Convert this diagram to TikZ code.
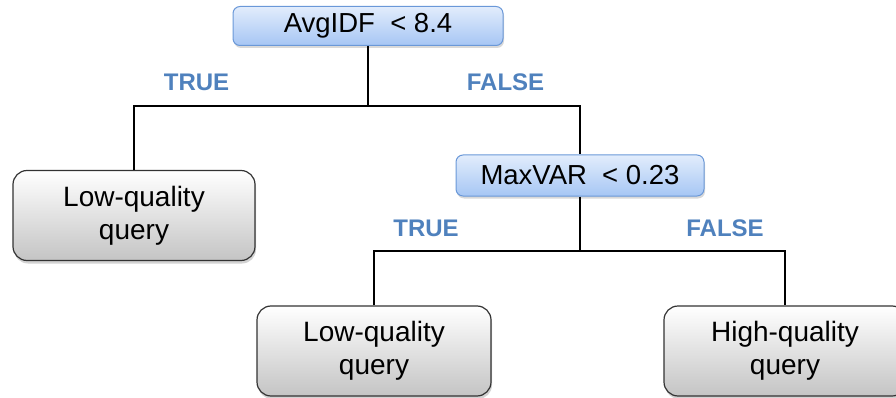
\documentclass[tikz,border=0pt]{standalone}
\usepackage{fontspec}
\setmainfont{Liberation Sans}
\usetikzlibrary{shadows}
\definecolor{lblue}{HTML}{4F81BD}
\definecolor{decborder}{HTML}{6A98D8}
\definecolor{dectop}{HTML}{E2EDFC}
\definecolor{decbot}{HTML}{A6C6F4}
\definecolor{leafborder}{HTML}{333333}
\definecolor{leafbot}{HTML}{C4C4C4}
\begin{document}
\begin{tikzpicture}[x=1pt,y=-1pt,
  dec/.style={draw=decborder, rounded corners=7pt, top color=dectop, bottom color=decbot,
    line width=1pt, drop shadow={opacity=0.3, shadow xshift=1pt, shadow yshift=-2.5pt},
    font=\fontsize{27.5}{30}\selectfont, inner sep=0pt},
  leaf/.style={draw=leafborder, rounded corners=14pt, top color=white, bottom color=leafbot,
    line width=1.2pt, drop shadow={opacity=0.35, shadow xshift=1pt, shadow yshift=-3pt},
    font=\fontsize{28}{33}\selectfont, align=center, inner sep=0pt,
    minimum width=242pt, minimum height=90pt},
  lbl/.style={text=lblue, font=\fontsize{24}{26}\selectfont\bfseries, inner sep=0pt},
  conn/.style={line width=1.2pt, black}]
\useasboundingbox (0,0) rectangle (896,398);
\clip (0,0) rectangle (896,398);
\node[dec, minimum width=270pt, minimum height=39pt] (root) at (368,26) {AvgIDF\ \ {<}\ 8.4};
\node[dec, minimum width=248pt, minimum height=41pt] (mv) at (580,175.5) {MaxVAR\ \ {<}\ 0.23};
\node[leaf] (l1) at (134,215.5) {Low-quality\\query};
\node[leaf, minimum width=234pt] (l2) at (374,351) {Low-quality\\query};
\node[leaf] (l3) at (785,351) {High-quality\\query};
\coordinate (j1) at (368,106);
\coordinate (j2) at (580,251);
\draw[conn] (root.south) -- (j1);
\draw[conn] (l1.north) |- (j1) -| (mv.north);
\draw[conn] (mv.south) -- (j2);
\draw[conn] (l2.north) |- (j2) -| (l3.north);
\node[lbl] (t1) at (196.5,82) {TRUE};
\node[lbl] (f1) at (505.5,82) {FALSE};
\node[lbl] (t2) at (426,228) {TRUE};
\node[lbl] (f2) at (725,228) {FALSE};
\end{tikzpicture}
\end{document}
